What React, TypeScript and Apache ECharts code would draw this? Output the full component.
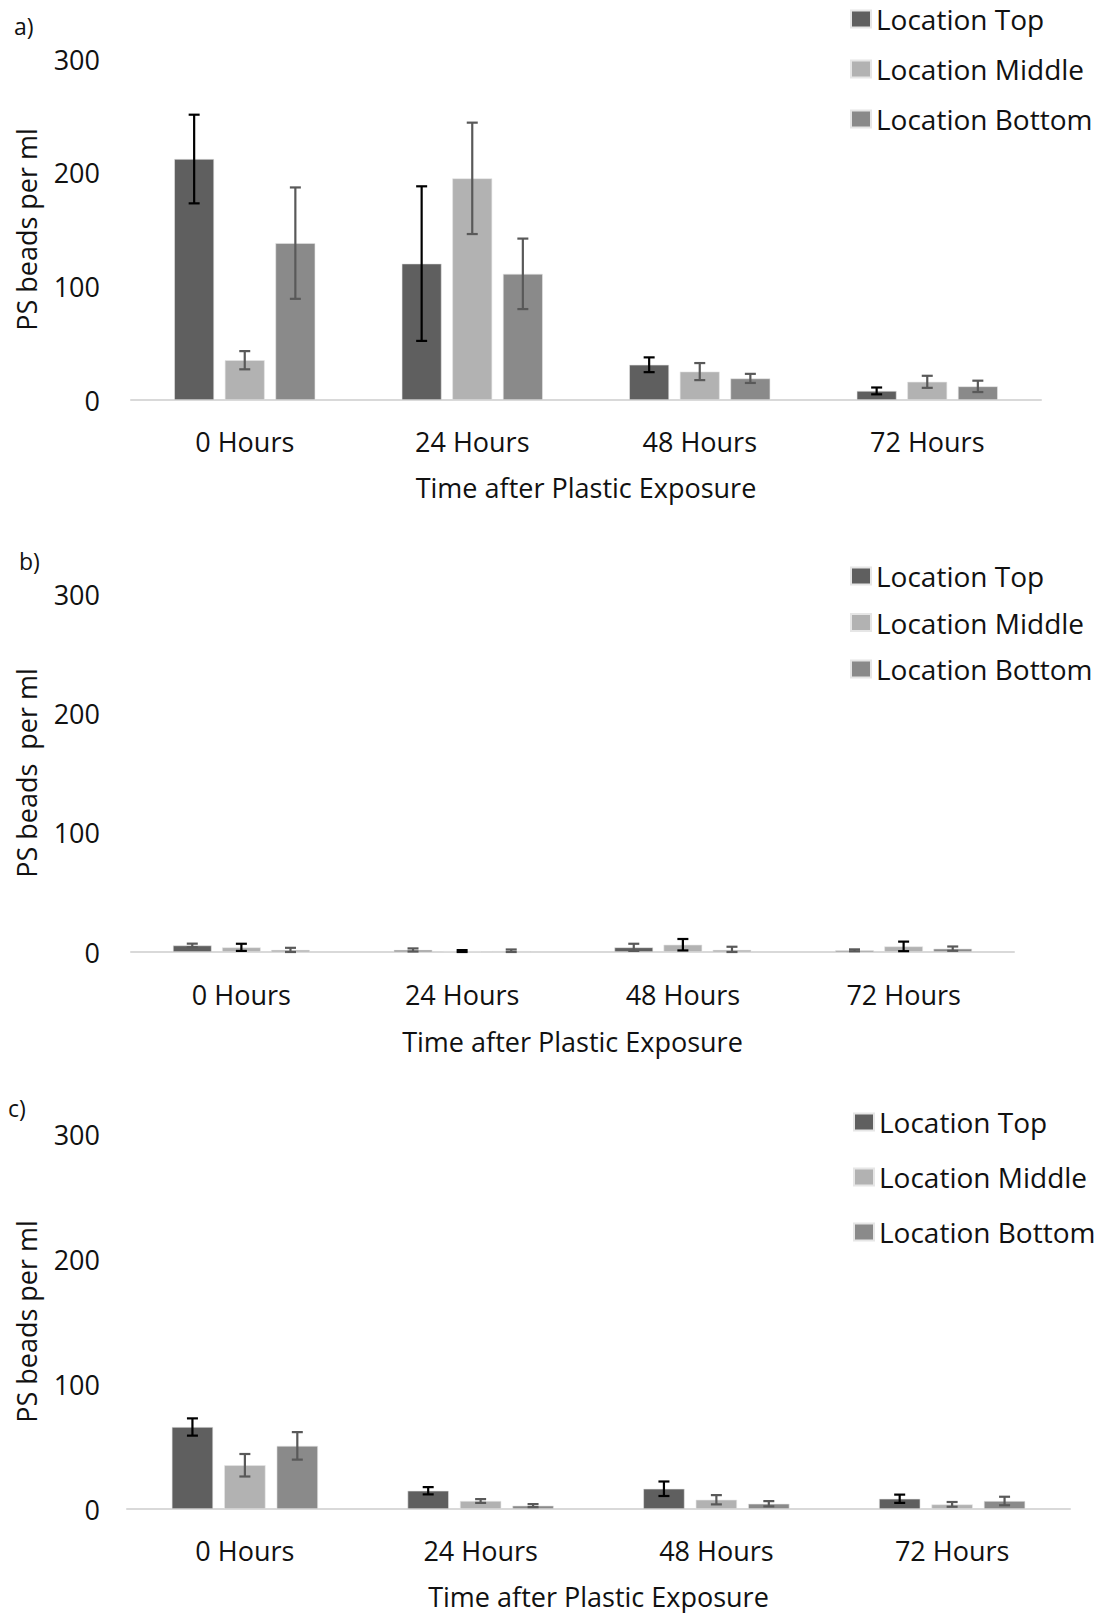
import React, { useEffect, useRef } from "react";
import * as echarts from "echarts";

const categories = ["0 Hours", "24 Hours", "48 Hours", "72 Hours"];
const locations = ["Location Top", "Location Middle", "Location Bottom"];
const yTicks = [0, 100, 200, 300];

// Panel a)
const aTop = [212, 120, 31, 8];
const aTopErr = [39, 68, 6.5, 3];
const aMid = [35, 195, 25, 16];
const aMidErr = [8, 49, 7.5, 5.3];
const aBot = [138, 111, 19, 12];
const aBotErr = [49, 31, 4, 5];

// Panel b)
const bTop = [5.5, 1.7, 3.9, 1.4];
const bTopErr = [1.5, 1.3, 3, 0.8];
const bMid = [3.9, 0.8, 6.1, 4.7];
const bMidErr = [3, 0.8, 4.8, 4];
const bBot = [1.7, 0.8, 1.7, 2.8];
const bBotErr = [1.8, 1.3, 2.7, 1.8];

// Panel c)
const cTop = [65.6, 14.6, 16.2, 8.2];
const cTopErr = [6.9, 2.9, 5.8, 3.3];
const cMid = [35, 6.4, 7.4, 3.7];
const cMidErr = [9, 1.5, 3.7, 1.9];
const cBot = [50.5, 2.7, 4.2, 6.4];
const cBotErr = [11, 1.2, 2.1, 3.4];

const FONT = '"Open Sans", sans-serif';
const BAR_COLORS = ["#5f5f5f", "#b2b2b2", "#8a8a8a"];
const CAT_GAP = 0.38;
const BAR_GAP = 0.27;

type Panel = {
  label: string;
  labelPos: [number, number];
  grid: { left: number; right: number; top: number; height: number };
  yName: string;
  yNameGap: number;
  xLabelMargin: number;
  xNameGap: number;
  legend: { left: number; top: number; itemGap: number };
  values: number[][];
  errs: number[][];
  errColors: string[];
};

const panels: Panel[] = [
  {
    label: "a)",
    labelPos: [14, 29],
    grid: { left: 131, right: 59, top: 59, height: 341 },
    yName: "PS beads per ml",
    yNameGap: 88,
    xLabelMargin: 25,
    xNameGap: 71,
    legend: { left: 845, top: -2, itemGap: 18 },
    values: [aTop, aMid, aBot],
    errs: [aTopErr, aMidErr, aBotErr],
    errColors: ["#000000", "#595959", "#595959"],
  },
  {
    label: "b)",
    labelPos: [19, 564],
    grid: { left: 131, right: 86, top: 594, height: 358 },
    yName: "PS beads  per ml",
    yNameGap: 88,
    xLabelMargin: 26,
    xNameGap: 73,
    legend: { left: 845, top: 555, itemGap: 14.5 },
    values: [bTop, bMid, bBot],
    errs: [bTopErr, bMidErr, bBotErr],
    errColors: ["#595959", "#000000", "#595959"],
  },
  {
    label: "c)",
    labelPos: [8, 1111],
    grid: { left: 127, right: 30, top: 1134, height: 376 },
    yName: "PS beads per ml",
    yNameGap: 84,
    xLabelMargin: 25,
    xNameGap: 71,
    legend: { left: 848, top: 1101, itemGap: 23 },
    values: [cTop, cMid, cBot],
    errs: [cTopErr, cMidErr, cBotErr],
    errColors: ["#000000", "#595959", "#595959"],
  },
];

function buildOption() {
  const grid: any[] = [];
  const xAxis: any[] = [];
  const yAxis: any[] = [];
  const legend: any[] = [];
  const series: any[] = [];
  const graphic: any[] = [];

  panels.forEach((p, pi) => {
    grid.push({ ...p.grid, containLabel: false });
    xAxis.push({
      type: "category",
      gridIndex: pi,
      data: categories,
      axisLine: { show: true, lineStyle: { color: "#d9d9d9", width: 2 } },
      axisTick: { show: false },
      axisLabel: {
        color: "#111",
        fontFamily: FONT,
        fontSize: 27,
        lineHeight: 32,
        margin: p.xLabelMargin,
      },
      name: "Time after Plastic Exposure",
      nameLocation: "middle",
      nameGap: p.xNameGap,
      nameTextStyle: { color: "#111", fontFamily: FONT, fontSize: 27, lineHeight: 32 },
    });
    yAxis.push({
      type: "value",
      gridIndex: pi,
      min: yTicks[0],
      max: yTicks[yTicks.length - 1],
      interval: 100,
      axisLine: { show: false },
      axisTick: { show: false },
      splitLine: { show: false },
      axisLabel: {
        color: "#111",
        fontFamily: FONT,
        fontSize: 27,
        margin: p.grid.left - 100,
      },
      name: p.yName,
      nameLocation: "middle",
      nameGap: p.yNameGap,
      nameTextStyle: { color: "#111", fontFamily: FONT, fontSize: 27, lineHeight: 32 },
    });
    legend.push({
      orient: "vertical",
      left: p.legend.left,
      top: p.legend.top,
      itemGap: p.legend.itemGap,
      itemWidth: 20,
      itemHeight: 17,
      icon: "rect",
      data: locations,
      textStyle: { color: "#111", fontFamily: FONT, fontSize: 28, lineHeight: 32 },
    });
    graphic.push({
      type: "text",
      left: p.labelPos[0],
      top: p.labelPos[1] - 15,
      style: { text: p.label, fontFamily: FONT, fontSize: 23, fill: "#111" },
    });

    locations.forEach((loc, si) => {
      series.push({
        type: "bar",
        name: loc,
        xAxisIndex: pi,
        yAxisIndex: pi,
        data: p.values[si],
        barGap: `${BAR_GAP * 100}%`,
        barCategoryGap: `${CAT_GAP * 100}%`,
        itemStyle: { color: BAR_COLORS[si], borderColor: "#e6e6e6", borderWidth: 0.6 },
      });
    });
    locations.forEach((loc, si) => {
      const errData = p.values[si].map((v, i) => [i, v - p.errs[si][i], v + p.errs[si][i]]);
      const color = p.errColors[si];
      series.push({
        type: "custom",
        name: `${loc} error ${p.label}`,
        xAxisIndex: pi,
        yAxisIndex: pi,
        data: errData,
        encode: { x: 0, y: [1, 2] },
        z: 5,
        renderItem: (params: any, api: any) => {
          const cat = api.value(0);
          const lo = api.coord([cat, Math.max(0, api.value(1))]);
          const hi = api.coord([cat, api.value(2)]);
          const bandW = api.size([1, 0])[0];
          const bw = (bandW * (1 - CAT_GAP)) / (3 + 2 * BAR_GAP);
          const x = lo[0] + (si - 1) * bw * (1 + BAR_GAP);
          const cap = 5.5;
          const style = { stroke: color, lineWidth: 2.2, fill: null };
          return {
            type: "group",
            children: [
              { type: "line", shape: { x1: x, y1: lo[1], x2: x, y2: hi[1] }, style },
              { type: "line", shape: { x1: x - cap, y1: hi[1], x2: x + cap, y2: hi[1] }, style },
              { type: "line", shape: { x1: x - cap, y1: lo[1], x2: x + cap, y2: lo[1] }, style },
            ],
          };
        },
      });
    });
  });

  return {
    animation: false,
    backgroundColor: "#ffffff",
    textStyle: { fontFamily: FONT },
    grid,
    xAxis,
    yAxis,
    legend,
    series,
    graphic,
  };
}

export default function App() {
  const ref = useRef<HTMLDivElement>(null);
  useEffect(() => {
    if (!ref.current) return;
    const chart = echarts.init(ref.current, null, { renderer: "svg" });
    chart.setOption(buildOption() as any);
    return () => chart.dispose();
  }, []);
  return (
    <div
      ref={ref}
      style={{ position: "absolute", left: 0, top: 0, width: 1100, height: 1613, background: "#fff" }}
    />
  );
}
